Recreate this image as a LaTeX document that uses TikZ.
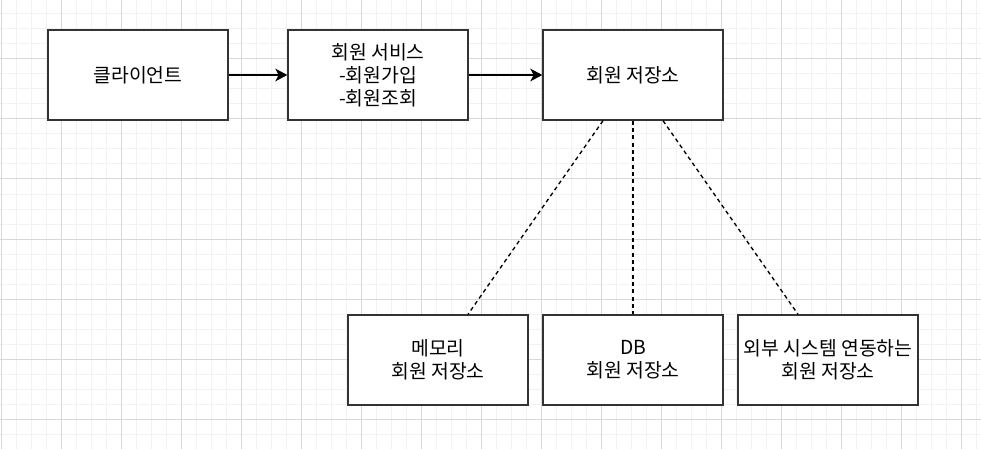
\documentclass[tikz,border=0pt]{standalone}
\usepackage{fontspec}
\usetikzlibrary{arrows.meta,calc}
\setmainfont{Noto Sans CJK KR}
\definecolor{gridMinor}{RGB}{242,242,242}
\definecolor{gridMajor}{RGB}{216,216,216}
\definecolor{boxLine}{RGB}{51,51,51}

\begin{document}
\begin{tikzpicture}[x=0.75pt,y=-0.75pt,>={Stealth[length=9pt,width=9.5pt,inset=2.5pt]},
  box/.style={draw=boxLine,line width=1pt,fill=white,minimum width=135pt,minimum height=67.5pt,
    align=center,font=\fontsize{14.5}{17.3}\selectfont,inner sep=1pt}]
\useasboundingbox (0,0) rectangle (981,449);
% background grid
\foreach \gx in {1,16,...,981} \draw[gridMinor,line width=0.75pt] (\gx,0)--(\gx,449);
\foreach \gy in {14,29,...,449} \draw[gridMinor,line width=0.75pt] (0,\gy)--(981,\gy);
\foreach \gx in {1,61,...,981} \draw[gridMajor,line width=0.75pt] (\gx,0)--(\gx,449);
\foreach \gy in {59,119,...,449} \draw[gridMajor,line width=0.75pt] (0,\gy)--(981,\gy);
% boxes
\node[box] (client) at (138,75) {클라이언트};
\node[box] (service) at (378,75) {회원 서비스\\-회원가입\\-회원조회};
\node[box] (repo) at (633,75) {회원 저장소};
\node[box] (memRepo) at (438,360) {메모리\\회원 저장소};
\node[box] (dbRepo) at (633,360) {DB\\회원 저장소};
\node[box] (extRepo) at (828,360) {외부 시스템 연동하는\\회원 저장소};
% connectors
\draw[->,line width=1pt] (client) -- (service);
\draw[->,line width=1pt] (service) -- (repo);
\draw[line width=1pt,dash pattern=on 3pt off 2.5pt] ($(repo.south)+(-30,0)$) -- ($(memRepo.north)+(30,0)$);
\draw[line width=1pt,dash pattern=on 3pt off 2.5pt] (repo.south) -- (dbRepo.north);
\draw[line width=1pt,dash pattern=on 3pt off 2.5pt] ($(repo.south)+(30,0)$) -- ($(extRepo.north)+(-30,0)$);
\end{tikzpicture}
\end{document}
